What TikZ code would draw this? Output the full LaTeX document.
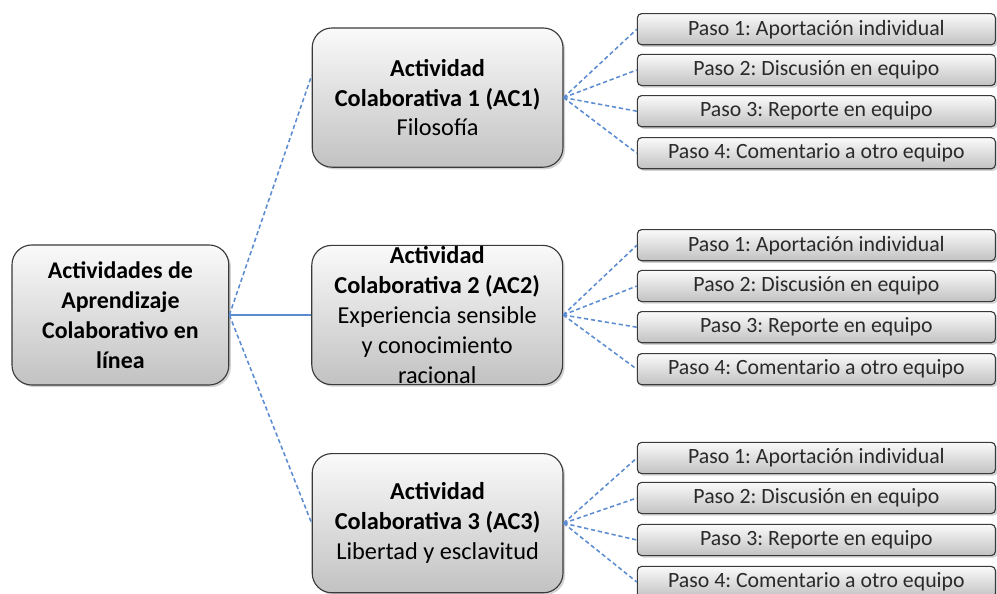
\documentclass[tikz,border=0pt]{standalone}
\usepackage{fontspec}
\setmainfont{Carlito}
\frenchspacing
\usetikzlibrary{shadows}
\definecolor{clink}{HTML}{5B8BD0}
\definecolor{cedge}{HTML}{3A3A3A}
\definecolor{ctext}{HTML}{2A2A2A}
\tikzset{
  every picture/.style={line width=0.8pt},
  box/.style={draw=cedge, top color=gray!4, bottom color=gray!48, rounded corners=#1,
    align=center, inner sep=0pt, drop shadow={shadow xshift=1.5pt, shadow yshift=-1.5pt, opacity=0.35}},
  box/.default=10pt,
  link/.style={draw=clink, line width=1.1pt, densely dashed},
}
\begin{document}
\begin{tikzpicture}[
  r/.style={box=14pt, minimum width=5.42cm, minimum height=3.5cm, font=\fontsize{17}{21.3}\selectfont\bfseries},
  a/.style={box=14pt, minimum width=6.27cm, minimum height=3.48cm, font=\fontsize{17.3}{21.3}\selectfont},
  p/.style={box=3pt, minimum width=8.95cm, minimum height=0.78cm, font=\fontsize{15.5}{16}\selectfont, text=ctext}]
  \useasboundingbox (0,0) rectangle (24.925,-14.85);
  \node[r] (root) at (3.01,-7.875) {Actividades de\\Aprendizaje\\Colaborativo en\\línea};
  % actividades
  \node[a] (ac1) at (10.94,-2.44) {\textbf{Actividad}\\\textbf{Colaborativa 1 (AC1)}\\Filosofía};
  \node[a] (ac2) at (10.93,-7.875) {\textbf{Actividad}\\\textbf{Colaborativa 2 (AC2)}\\Experiencia sensible\\y conocimiento\\racional};
  \node[a] (ac3) at (10.94,-13.08) {\textbf{Actividad}\\\textbf{Colaborativa 3 (AC3)}\\Libertad y esclavitud};
  % pasos AC1
  \node[p] (p11) at (20.41,-0.73) {Paso 1: Aportación individual};
  \node[p] (p12) at (20.41,-1.75) {Paso 2: Discusión en equipo};
  \node[p] (p13) at (20.41,-2.78) {Paso 3: Reporte en equipo};
  \node[p] (p14) at (20.41,-3.83) {Paso 4: Comentario a otro equipo};
  % pasos AC2
  \node[p] (p21) at (20.41,-6.13) {Paso 1: Aportación individual};
  \node[p] (p22) at (20.41,-7.15) {Paso 2: Discusión en equipo};
  \node[p] (p23) at (20.41,-8.18) {Paso 3: Reporte en equipo};
  \node[p] (p24) at (20.41,-9.23) {Paso 4: Comentario a otro equipo};
  % pasos AC3
  \node[p] (p31) at (20.41,-11.45) {Paso 1: Aportación individual};
  \node[p] (p32) at (20.41,-12.45) {Paso 2: Discusión en equipo};
  \node[p] (p33) at (20.41,-13.5) {Paso 3: Reporte en equipo};
  \node[p] (p34) at (20.41,-14.55) {Paso 4: Comentario a otro equipo};
  \draw[link] (root.east) -- (ac1.170);
  \draw[draw=clink, line width=1.8pt] (root.east) -- (ac2.west);
  \draw[link] (root.east) -- (ac3.west);
  \draw[link] (ac1.east) -- (p11.west); \draw[link] (ac1.east) -- (p12.west);
  \draw[link] (ac1.east) -- (p13.west); \draw[link] (ac1.east) -- (p14.west);
  \draw[link] (ac2.east) -- (p21.west); \draw[link] (ac2.east) -- (p22.west);
  \draw[link] (ac2.east) -- (p23.west); \draw[link] (ac2.east) -- (p24.west);
  \draw[link] (ac3.east) -- (p31.west); \draw[link] (ac3.east) -- (p32.west);
  \draw[link] (ac3.east) -- (p33.west); \draw[link] (ac3.east) -- (p34.west);
\end{tikzpicture}
\end{document}
